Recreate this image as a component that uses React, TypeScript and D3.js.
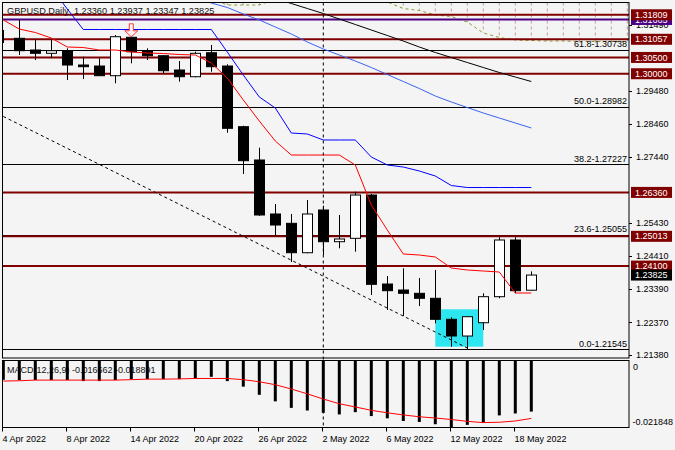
import React, { useRef, useEffect } from 'react';
import * as d3 from 'd3';

// trading days shown on the chart
const dates = ['4 Apr', '5 Apr', '6 Apr', '7 Apr', '8 Apr', '11 Apr', '12 Apr', '13 Apr', '14 Apr', '15 Apr',
  '18 Apr', '19 Apr', '20 Apr', '21 Apr', '22 Apr', '25 Apr', '26 Apr', '27 Apr', '28 Apr', '29 Apr',
  '2 May', '3 May', '4 May', '5 May', '6 May', '9 May', '10 May', '11 May', '12 May', '13 May',
  '16 May', '17 May', '18 May', '19 May'];
// bars to the right of the last candle (cloud is shifted forward)
const futureDates = ['20 May', '23 May', '24 May', '25 May', '26 May', '27 May'];

const opens = [1.31160, 1.31087, 1.30728, 1.30627, 1.30707, 1.30268, 1.30237, 1.29940, 1.31118, 1.30707,
  1.30553, 1.30115, 1.29909, 1.30645, 1.30237, 1.28376, 1.27354, 1.25698, 1.25412, 1.24510,
  1.25820, 1.24848, 1.24952, 1.26280, 1.23550, 1.23366, 1.23265, 1.23112, 1.22468, 1.21955,
  1.22363, 1.23161, 1.24900, 1.23360];
const highs = [1.31342, 1.31649, 1.31057, 1.31057, 1.30780, 1.30523, 1.30474, 1.31188, 1.31250, 1.30780,
  1.30575, 1.30391, 1.30676, 1.30882, 1.30290, 1.28406, 1.27731, 1.26004, 1.25698, 1.26127,
  1.25952, 1.25667, 1.26382, 1.26311, 1.23796, 1.24032, 1.23734, 1.23980, 1.22529, 1.22569,
  1.23265, 1.24983, 1.24983, 1.23937];
const lows = [1.30943, 1.30575, 1.30422, 1.30474, 1.29808, 1.29839, 1.29931, 1.29707, 1.30320, 1.30422,
  1.30014, 1.29756, 1.29890, 1.30063, 1.28191, 1.26925, 1.25640, 1.25053, 1.24225, 1.24492,
  1.24440, 1.24645, 1.24541, 1.23213, 1.22753, 1.22569, 1.22875, 1.22345, 1.21627, 1.21545,
  1.22139, 1.23112, 1.23265, 1.23347];
const closes = [1.31105, 1.30707, 1.30627, 1.30707, 1.30268, 1.30216, 1.29940, 1.31136, 1.30676, 1.30553,
  1.30093, 1.29909, 1.30627, 1.30216, 1.28326, 1.27333, 1.25667, 1.25360, 1.24510, 1.25698,
  1.24848, 1.24931, 1.26280, 1.23541, 1.23345, 1.23265, 1.23112, 1.22468, 1.21955, 1.22547,
  1.23161, 1.24900, 1.23345, 1.23825];

// ichimoku tenkan (red) and kijun (blue)
const tenkan = [1.31649, 1.31372, 1.31265, 1.31096, 1.30820, 1.30805, 1.30728, 1.30728, 1.30667, 1.30636,
  1.30621, 1.30590, 1.30575, 1.30330, 1.29869, 1.29195, 1.28550, 1.27937, 1.27507, 1.27507,
  1.27507, 1.27507, 1.27201, 1.25974, 1.25207, 1.24471, 1.24440, 1.24379, 1.24041, 1.23980,
  1.23949, 1.23918, 1.23274, 1.23274];
const kijun = [1.32630, 1.32630, 1.32630, 1.32630, 1.31986, 1.31357, 1.31357, 1.31357, 1.31357, 1.31357,
  1.31357, 1.31357, 1.31357, 1.31357, 1.30667, 1.29961, 1.29287, 1.28949, 1.28182, 1.28152,
  1.27968, 1.27968, 1.27968, 1.27446, 1.27201, 1.27139, 1.27017, 1.26863, 1.26572, 1.26510,
  1.26510, 1.26510, 1.26510, 1.26510];
// senkou span A (olive dashed), includes the 6 bars ahead
const spanA = [null, null, null, null, null, null, null, null, null, null,
  null, null, null, 1.32293, 1.32109, 1.32109, 1.32109, 1.32293, null, null,
  null, null, null, 1.32323, 1.32201, 1.32001, 1.31940, 1.31802, 1.31756, 1.31587,
  1.31250, 1.31112, 1.31035, 1.31020, 1.31004, 1.31004, 1.30989, 1.30989, 1.30989, 1.30989];

// moving averages
const maBlue = [null, null, null, null, null, null, null, null, null, null,
  null, null, 1.32323, 1.32170, 1.32032, 1.31833, 1.31649, 1.31434, 1.31219, 1.30974,
  1.30759, 1.30575, 1.30391, 1.30191, 1.29977, 1.29762, 1.29547, 1.29317, 1.29133, 1.28964,
  1.28796, 1.28642, 1.28489, 1.28336];
const maBlack = [null, null, null, null, null, null, null, null, null, null,
  null, null, null, null, null, null, null, 1.32308, 1.32155, 1.32001,
  1.31848, 1.31679, 1.31511, 1.31342, 1.31173, 1.31004, 1.30820, 1.30652, 1.30498, 1.30345,
  1.30191, 1.30038, 1.29900, 1.29762];

// MACD(12,26,9)
const macdHist = [-0.00630, -0.00639, -0.00639, -0.00639, -0.00639, -0.00671, -0.00671, -0.00639, -0.00608, -0.00608,
  -0.00608, -0.00608, -0.00586, -0.00533, -0.00671, -0.00853, -0.01119, -0.01332, -0.01545, -0.01631,
  -0.01705, -0.01759, -0.01684, -0.01812, -0.01886, -0.01972, -0.02004, -0.02078, -0.021848, -0.02099,
  -0.02025, -0.01790, -0.01727, -0.016662];
const macdSignal = [-0.00671, -0.00660, -0.00639, -0.00639, -0.00639, -0.00639, -0.00639, -0.00639, -0.00625, -0.00608,
  -0.00608, -0.00600, -0.00586, -0.00586, -0.00586, -0.00625, -0.00693, -0.00790, -0.00930, -0.01087,
  -0.01258, -0.01410, -0.01515, -0.01625, -0.01705, -0.01775, -0.01835, -0.01875, -0.01925, -0.01985,
  -0.02025, -0.02014, -0.01972, -0.018891];

// horizontal levels
const maroonLevels = [1.31809, 1.31057, 1.30500, 1.30000, 1.26360, 1.25013, 1.24100];
const purpleLevel = 1.31665;
const fibNames = ['61.8', '50.0', '38.2', '23.6', '0.0'];
const fibPrices = [1.30738, 1.28982, 1.27227, 1.25055, 1.21545];
const bidPrice = 1.23825;

// price ticks that are not hidden under a level tag
const priceTicks = [1.31490, 1.29480, 1.28460, 1.27440, 1.25430, 1.24410, 1.23390, 1.22370, 1.21380];
const dateTickBars = ['4 Apr', '8 Apr', '14 Apr', '20 Apr', '26 Apr', '2 May', '6 May', '12 May', '18 May'];
const dateTickLabels = ['4 Apr 2022', '8 Apr 2022', '14 Apr 2022', '20 Apr 2022', '26 Apr 2022', '2 May 2022', '6 May 2022', '12 May 2022', '18 May 2022'];

// drawn objects
const trendFrom = { date: '4 Apr', price: 1.28690 };
const trendTo = { date: '13 May', price: 1.21587 };
const boxFrom = { date: '11 May', price: 1.22775 };
const boxTo = { date: '16 May', price: 1.21627 };
const arrowMark = { date: '14 Apr', price: 1.31118 };
const vLineDate = '2 May';

const App = () => {
  const ref = useRef<SVGSVGElement>(null);

  useEffect(() => {
    const svg = d3.select(ref.current);
    svg.selectAll('*').remove();

    const W = 675, H = 450;
    const left = 3, right = 629;
    const mainTop = 2.5, mainBottom = 358;
    const macdTop = 360.5, macdBottom = 427.5;
    const font = '"Liberation Sans", Arial, sans-serif';

    const allDates = dates.concat(futureDates);
    const x = d3.scalePoint<string>().domain(allDates).range([3.3, 627.3]);
    const y = d3.scaleLinear().domain([1.212806, 1.321855]).range([mainBottom, mainTop]);
    const ym = d3.scaleLinear().domain([-0.021848, 0]).range([macdBottom, macdTop]);

    svg.append('rect').attr('width', W).attr('height', H).attr('fill', '#f4f4f4');

    const defs = svg.append('defs');
    defs.append('clipPath').attr('id', 'clipMain').append('rect')
      .attr('x', left).attr('y', mainTop).attr('width', right - left).attr('height', mainBottom - mainTop);
    defs.append('clipPath').attr('id', 'clipMacd').append('rect')
      .attr('x', left).attr('y', macdTop).attr('width', right - left).attr('height', macdBottom - macdTop);

    const main = svg.append('g').attr('clip-path', 'url(#clipMain)');

    // highlighted zone
    main.append('rect')
      .attr('x', x(boxFrom.date)!).attr('y', y(boxFrom.price))
      .attr('width', x(boxTo.date)! - x(boxFrom.date)!)
      .attr('height', y(boxTo.price) - y(boxFrom.price))
      .attr('fill', '#2ee6f0');

    // cloud hatching + span A
    spanA.forEach((v, i) => {
      if (v == null) return;
      const yy = y(v);
      if (yy <= mainTop) return;
      main.append('line')
        .attr('x1', x(allDates[i])!).attr('x2', x(allDates[i])!)
        .attr('y1', mainTop).attr('y2', yy)
        .attr('stroke', '#c29c9c').attr('stroke-dasharray', '3,3');
    });
    const spanLine = d3.line<number | null>()
      .defined(d => d != null)
      .x((d, i) => x(allDates[i])!)
      .y(d => y(d as number));
    main.append('path').attr('d', spanLine(spanA)).attr('fill', 'none')
      .attr('stroke', '#8a9a2a').attr('stroke-dasharray', '3,3');

    // fibo levels
    fibPrices.forEach((p, i) => {
      main.append('line').attr('x1', left).attr('x2', right)
        .attr('y1', Math.round(y(p)) + 0.5).attr('y2', Math.round(y(p)) + 0.5)
        .attr('stroke', '#000');
      main.append('text').attr('x', 627).attr('y', y(p) - 2.5)
        .attr('text-anchor', 'end').attr('font-family', font).attr('font-size', 9)
        .attr('fill', '#000').text(`${fibNames[i]}-${p.toFixed(5)}`);
    });

    // support / resistance
    main.append('line').attr('x1', left).attr('x2', right)
      .attr('y1', y(purpleLevel)).attr('y2', y(purpleLevel))
      .attr('stroke', '#4b0082').attr('stroke-width', 2);
    maroonLevels.forEach(p => {
      main.append('line').attr('x1', left).attr('x2', right)
        .attr('y1', y(p)).attr('y2', y(p))
        .attr('stroke', '#800000').attr('stroke-width', 2);
    });

    // trend line
    main.append('line')
      .attr('x1', x(trendFrom.date)!).attr('y1', y(trendFrom.price))
      .attr('x2', x(trendTo.date)!).attr('y2', y(trendTo.price))
      .attr('stroke', '#000').attr('stroke-dasharray', '3,3');

    // candles
    dates.forEach((d, i) => {
      const cx = Math.round(x(d)!) + 0.5;
      main.append('line').attr('x1', cx).attr('x2', cx)
        .attr('y1', y(highs[i])).attr('y2', y(lows[i]))
        .attr('stroke', '#000');
      if (cx - 5 < left) return; // partial bar at the left edge: wick only
      const top = y(Math.max(opens[i], closes[i]));
      const bot = y(Math.min(opens[i], closes[i]));
      main.append('rect')
        .attr('x', cx - 5).attr('y', top)
        .attr('width', 10).attr('height', Math.max(1, bot - top))
        .attr('fill', closes[i] >= opens[i] ? '#fff' : '#000')
        .attr('stroke', '#000');
    });

    // indicator lines
    const line = d3.line<number | null>()
      .defined(d => d != null)
      .x((d, i) => x(dates[i])!)
      .y(d => y(d as number));
    main.append('path').attr('d', line(maBlue)).attr('fill', 'none').attr('stroke', '#3a63f0');
    main.append('path').attr('d', line(maBlack)).attr('fill', 'none').attr('stroke', '#000');
    main.append('path').attr('d', line(kijun)).attr('fill', 'none').attr('stroke', '#0000ff');
    main.append('path').attr('d', line(tenkan)).attr('fill', 'none').attr('stroke', '#ff0000');

    // arrow marker
    const ax = x(arrowMark.date)!, ay = y(arrowMark.price) - 0.5;
    main.append('path')
      .attr('d', 'M-2,-13L2,-13L2,-6L6.5,-6L0,0L-6.5,-6L-2,-6Z')
      .attr('transform', `translate(${ax},${ay})`)
      .attr('fill', '#fff4f4').attr('stroke', '#ff3a3a');

    // vertical period separator
    svg.append('line')
      .attr('x1', x(vLineDate)!).attr('x2', x(vLineDate)!)
      .attr('y1', mainTop).attr('y2', macdBottom)
      .attr('stroke', '#000').attr('stroke-dasharray', '3,3');

    // title
    svg.append('text').attr('x', 7).attr('y', 13.5)
      .attr('font-family', font).attr('font-size', 9.2).attr('fill', '#111')
      .attr('xml:space', 'preserve')
      .text(`GBPUSD,Daily  ${opens[33].toFixed(5)} ${highs[33].toFixed(5)} ${lows[33].toFixed(5)} ${closes[33].toFixed(5)}`);

    // frames
    svg.append('rect').attr('x', left - 0.5).attr('y', mainTop).attr('width', right - left + 0.5)
      .attr('height', mainBottom - mainTop).attr('fill', 'none').attr('stroke', '#000');
    svg.append('rect').attr('x', left - 0.5).attr('y', macdTop).attr('width', right - left + 0.5)
      .attr('height', macdBottom - macdTop).attr('fill', 'none').attr('stroke', '#000');

    // price axis
    priceTicks.forEach(p => {
      svg.append('line').attr('x1', right).attr('x2', right + 3)
        .attr('y1', Math.round(y(p)) + 0.5).attr('y2', Math.round(y(p)) + 0.5).attr('stroke', '#000');
      svg.append('text').attr('x', 636).attr('y', y(p)).attr('dy', '0.35em')
        .attr('font-family', font).attr('font-size', 9).attr('fill', '#000')
        .text(p.toFixed(5));
    });
    const tag = (p: number, fill: string) => {
      svg.append('rect').attr('x', 631).attr('y', y(p) - 5.5).attr('width', 41).attr('height', 11).attr('fill', fill);
      svg.append('text').attr('x', 635).attr('y', y(p)).attr('dy', '0.35em')
        .attr('font-family', font).attr('font-size', 9).attr('fill', '#fff')
        .text(p.toFixed(5));
    };
    tag(purpleLevel, '#4b0082');
    maroonLevels.forEach(p => tag(p, '#800000'));
    tag(bidPrice, '#000');

    // MACD panel
    const macd = svg.append('g').attr('clip-path', 'url(#clipMacd)');
    macd.append('text').attr('x', 7).attr('y', 372.5)
      .attr('font-family', font).attr('font-size', 9).attr('fill', '#111')
      .text(`MACD(12,26,9) ${macdHist[33].toFixed(6)} ${macdSignal[33].toFixed(6)}`);
    macd.selectAll('rect.bar').data(macdHist).enter().append('rect')
      .attr('class', 'bar')
      .attr('x', (d, i) => x(dates[i])! - 1.5)
      .attr('y', ym(0))
      .attr('width', 3)
      .attr('height', d => ym(d) - ym(0))
      .attr('fill', '#000');
    const sig = d3.line<number>().x((d, i) => x(dates[i])!).y(d => ym(d));
    macd.append('path').attr('d', sig(macdSignal)).attr('fill', 'none').attr('stroke', '#ff0000');

    svg.append('text').attr('x', 633).attr('y', 367.3).attr('dy', '0.35em')
      .attr('font-family', font).attr('font-size', 9).attr('fill', '#000').text('0');
    svg.append('text').attr('x', 632.5).attr('y', 421.7).attr('dy', '0.35em')
      .attr('font-family', font).attr('font-size', 9).attr('fill', '#000').text('-0.021848');

    // date axis
    dateTickBars.forEach((d, i) => {
      const tx = Math.round(x(d)!) - 0.5;
      svg.append('line').attr('x1', tx).attr('x2', tx)
        .attr('y1', macdBottom).attr('y2', macdBottom + 4).attr('stroke', '#000');
      svg.append('text').attr('x', tx).attr('y', 441.5)
        .attr('font-family', font).attr('font-size', 9).attr('fill', '#000')
        .text(dateTickLabels[i]);
    });
  }, []);

  return (
    <div style={{ position: 'absolute', left: 0, top: 0 }}>
      <svg ref={ref} width={675} height={450} style={{ display: 'block' }} />
    </div>
  );
};

export default App;
